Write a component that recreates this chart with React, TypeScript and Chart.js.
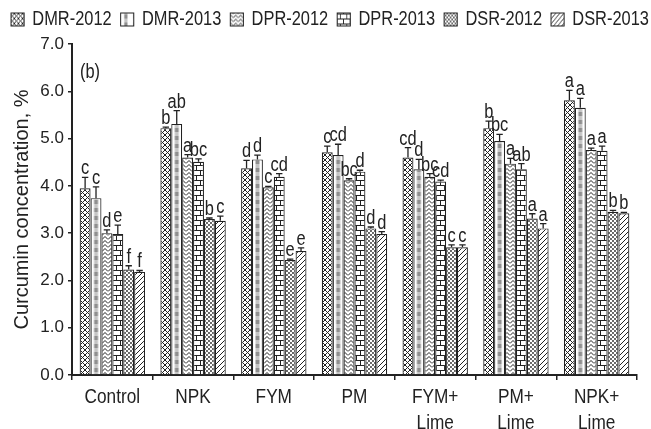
import React, { useEffect, useRef } from 'react';
import { Chart, registerables } from 'chart.js';

Chart.register(...registerables);

const categories: (string | string[])[] = ['Control', 'NPK', 'FYM', 'PM', ['FYM+', 'Lime'], ['PM+', 'Lime'], ['NPK+', 'Lime']];
const seriesNames = ['DMR-2012', 'DMR-2013', 'DPR-2012', 'DPR-2013', 'DSR-2012', 'DSR-2013'];

const dmr2012 = [3.95, 5.22, 4.37, 4.71, 4.60, 5.22, 5.81];
const dmr2013 = [3.74, 5.31, 4.56, 4.65, 4.35, 4.95, 5.65];
const dpr2012 = [3.00, 4.60, 3.97, 4.12, 4.19, 4.47, 4.76];
const dpr2013 = [2.98, 4.51, 4.19, 4.30, 4.09, 4.35, 4.74];
const dsr2012 = [2.23, 3.30, 2.43, 3.10, 2.70, 3.31, 3.45];
const dsr2013 = [2.18, 3.26, 2.62, 2.98, 2.70, 3.10, 3.42];

const dmr2012Err = [0.23, 0.02, 0.17, 0.13, 0.21, 0.15, 0.21];
const dmr2013Err = [0.24, 0.28, 0.09, 0.23, 0.21, 0.14, 0.20];
const dpr2012Err = [0.07, 0.06, 0.02, 0.03, 0.07, 0.11, 0.04];
const dpr2013Err = [0.19, 0.06, 0.07, 0.03, 0.03, 0.12, 0.10];
const dsr2012Err = [0.08, 0.02, 0.02, 0.03, 0.05, 0.10, 0.03];
const dsr2013Err = [0.03, 0.10, 0.07, 0.05, 0.05, 0.10, 0.02];

const dmr2012Letters = ['c', 'b', 'd', 'c', 'cd', 'b', 'a'];
const dmr2013Letters = ['c', 'ab', 'd', 'cd', 'd', 'bc', 'a'];
const dpr2012Letters = ['d', 'a', 'c', 'bc', 'bc', 'a', 'a'];
const dpr2013Letters = ['e', 'bc', 'cd', 'd', 'cd', 'ab', 'a'];
const dsr2012Letters = ['f', 'b', 'e', 'd', 'c', 'a', 'b'];
const dsr2013Letters = ['f', 'c', 'e', 'd', 'c', 'a', 'b'];

const yTicks = [0, 1, 2, 3, 4, 5, 6, 7];
const yTitle = 'Curcumin concentration, %';
const panelLabel = '(b)';

const values = [dmr2012, dmr2013, dpr2012, dpr2013, dsr2012, dsr2013];
const errors = [dmr2012Err, dmr2013Err, dpr2012Err, dpr2013Err, dsr2012Err, dsr2013Err];
const letters = [dmr2012Letters, dmr2013Letters, dpr2012Letters, dpr2013Letters, dsr2012Letters, dsr2013Letters];

const REG = "'Liberation Sans', Arial, sans-serif";
const INK = '#222222';
const SX = 0.82; // horizontal squeeze to imitate a narrow typeface
const CAT_PCT = 0.81;
const LEGEND_DX = 2;
const LEGEND_DY = -1.5;

function tileCanvas(w: number, h: number, draw: (c: CanvasRenderingContext2D) => void): HTMLCanvasElement {
  const cv = document.createElement('canvas');
  cv.width = w;
  cv.height = h;
  const c = cv.getContext('2d') as CanvasRenderingContext2D;
  c.fillStyle = '#ffffff';
  c.fillRect(0, 0, w, h);
  c.strokeStyle = INK;
  c.fillStyle = INK;
  c.lineWidth = 1;
  draw(c);
  return cv;
}

const patCtx = () => document.createElement('canvas').getContext('2d') as CanvasRenderingContext2D;

function makePatterns() {
  const cross = patCtx().createPattern(tileCanvas(5, 5, (c) => {
    c.beginPath();
    c.moveTo(-1, -1); c.lineTo(6, 6);
    c.moveTo(6, -1); c.lineTo(-1, 6);
    c.stroke();
  }), 'repeat') as CanvasPattern;
  const stripeTile = tileCanvas(11, 8, (c) => {
    c.fillStyle = '#8f8f8f';
    c.fillRect(3.5, 0, 4, 4);
    c.fillStyle = '#c4c4c4';
    c.fillRect(3.5, 4, 4, 4);
  });
  const zigzag = patCtx().createPattern(tileCanvas(6, 4, (c) => {
    c.beginPath();
    c.moveTo(0, 3.5); c.lineTo(3, 0.5); c.lineTo(6, 3.5);
    c.stroke();
  }), 'repeat') as CanvasPattern;
  const brick = patCtx().createPattern(tileCanvas(8, 10, (c) => {
    c.beginPath();
    c.moveTo(0, 0.5); c.lineTo(8, 0.5);
    c.moveTo(0, 5.5); c.lineTo(8, 5.5);
    c.moveTo(0.5, 0.5); c.lineTo(0.5, 5.5);
    c.moveTo(4.5, 5.5); c.lineTo(4.5, 10);
    c.stroke();
  }), 'repeat') as CanvasPattern;
  const dots = patCtx().createPattern(tileCanvas(4, 4, (c) => {
    c.beginPath();
    c.arc(1, 1, 0.9, 0, Math.PI * 2);
    c.arc(3, 3, 0.9, 0, Math.PI * 2);
    c.fill();
  }), 'repeat') as CanvasPattern;
  const diag = patCtx().createPattern(tileCanvas(5, 5, (c) => {
    c.beginPath();
    c.moveTo(-1, 6); c.lineTo(6, -1);
    c.moveTo(-1, 1); c.lineTo(1, -1);
    c.moveTo(4, 6); c.lineTo(6, 4);
    c.stroke();
  }), 'repeat') as CanvasPattern;

  // DMR-2013: grey dashed stripe down the middle of every bar (pattern aligned to each bar)
  const stripePatterns = new Map<number, CanvasPattern>();
  const stripeFill = (context: any) => {
    const chart = context.chart;
    const xs = chart.scales && chart.scales.x;
    if (context.dataIndex === undefined || !xs || !xs.width) {
      return patCtx().createPattern(stripeTile, 'repeat') as CanvasPattern;
    }
    const n = chart.data.labels.length;
    const catW = xs.width / n;
    const groupW = catW * CAT_PCT;
    const barW = groupW / seriesNames.length;
    const center = xs.getPixelForValue(context.dataIndex);
    const left = center - groupW / 2 + barW * context.datasetIndex + (barW - 11) / 2;
    const key = Math.round(left * 100);
    let p = stripePatterns.get(key);
    if (!p) {
      p = patCtx().createPattern(stripeTile, 'repeat') as CanvasPattern;
      p.setTransform(new DOMMatrix([1, 0, 0, 1, left, 0]));
      stripePatterns.set(key, p);
    }
    return p;
  };
  return [cross, stripeFill, zigzag, brick, dots, diag];
}

function narrowText(ctx: CanvasRenderingContext2D, text: string, x: number, y: number) {
  ctx.save();
  ctx.translate(x, y);
  ctx.scale(SX, 1);
  ctx.fillText(text, 0, 0);
  ctx.restore();
}

const narrowPlugin = {
  id: 'narrowPlugin',
  afterInit(chart: any) {
    const legend = chart.legend;
    if (!legend || legend.__patched) return;
    legend.__patched = true;
    const origFit = legend.fit;
    legend.fit = function () {
      const mw = this.maxWidth;
      this.maxWidth = 5000;
      origFit.call(this);
      this.maxWidth = mw;
      this.width = Math.min(this.width, mw);
      this.height += 3;
    };
    const origDraw = legend.draw;
    legend.draw = function (area: any) {
      const L = this.left, R = this.right, W = this.width;
      this.left = 0;
      this.right = 5000;
      this.width = 5000;
      this.ctx.save();
      this.ctx.translate(L + LEGEND_DX, LEGEND_DY);
      this.ctx.scale(SX, 1);
      origDraw.call(this, area);
      this.ctx.restore();
      this.left = L;
      this.right = R;
      this.width = W;
    };
  },
  beforeDraw(chart: any) {
    const xs = chart.scales.x;
    if (!xs || xs.__patched) return;
    xs.__patched = true;
    xs.drawLabels = function (chartArea: any) {
      const ctx: CanvasRenderingContext2D = this.ctx;
      const items = this.getLabelItems(chartArea);
      for (const item of items) {
        const { label, font, textOffset, options } = item;
        ctx.save();
        ctx.font = font.string;
        ctx.fillStyle = options.color;
        ctx.textAlign = options.textAlign;
        ctx.textBaseline = options.textBaseline;
        const lines = Array.isArray(label) ? label : [label];
        let yy = options.translation[1] + textOffset;
        for (const line of lines) {
          narrowText(ctx, String(line), options.translation[0], yy);
          yy += font.lineHeight;
        }
        ctx.restore();
      }
    };
  },
};

const annotations = {
  id: 'annotations',
  afterDatasetsDraw(chart: any) {
    const ctx: CanvasRenderingContext2D = chart.ctx;
    const ys = chart.scales.y;
    ctx.save();
    values.forEach((series, di) => {
      const meta = chart.getDatasetMeta(di);
      meta.data.forEach((bar: any, i: number) => {
        const x = bar.x;
        const top = ys.getPixelForValue(series[i]);
        const et = ys.getPixelForValue(series[i] + errors[di][i]);
        ctx.strokeStyle = INK;
        ctx.lineWidth = 1.3;
        ctx.beginPath();
        ctx.moveTo(x, top);
        ctx.lineTo(x, et);
        ctx.moveTo(x - 3.2, et);
        ctx.lineTo(x + 3.2, et);
        ctx.stroke();
        ctx.fillStyle = INK;
        ctx.font = `20px ${REG}`;
        ctx.textAlign = 'center';
        ctx.textBaseline = 'alphabetic';
        narrowText(ctx, letters[di][i], x, et - 3);
      });
    });
    ctx.font = `20px ${REG}`;
    ctx.textAlign = 'left';
    ctx.textBaseline = 'alphabetic';
    ctx.fillStyle = INK;
    narrowText(ctx, panelLabel, chart.chartArea.left + 8, chart.chartArea.top + 34);
    ctx.restore();
  },
};

export default function App() {
  const ref = useRef<HTMLCanvasElement | null>(null);
  useEffect(() => {
    document.body.style.margin = '0';
    const canvas = ref.current;
    if (!canvas) return;
    const patterns = makePatterns();
    const chart = new Chart(canvas, {
      type: 'bar',
      data: {
        labels: categories as any,
        datasets: seriesNames.map((name, i) => ({
          label: name,
          data: values[i],
          backgroundColor: patterns[i] as any,
          borderColor: INK,
          borderWidth: 1.2,
          categoryPercentage: CAT_PCT,
          barPercentage: 1.0,
        })),
      },
      options: {
        responsive: false,
        animation: false,
        devicePixelRatio: 1,
        layout: { padding: { top: 0, right: 14, left: 0, bottom: 0 } },
        plugins: {
          legend: {
            position: 'top',
            align: 'start',
            labels: {
              font: { family: REG, size: 20 },
              color: INK,
              boxWidth: 16,
              boxHeight: 13,
              padding: 11,
            },
          },
          tooltip: { enabled: false },
        },
        scales: {
          x: {
            grid: { drawOnChartArea: false, drawTicks: true, tickLength: 5, color: INK, lineWidth: 1.5 },
            border: { color: INK, width: 2 },
            ticks: {
              font: { family: REG, size: 21, lineHeight: 1.25 },
              color: INK,
              padding: 4,
              maxRotation: 0,
              autoSkip: false,
            },
            afterFit: (s: any) => { s.height = 54; },
          },
          y: {
            min: 0,
            max: 7,
            afterBuildTicks: (s: any) => { s.ticks = yTicks.map((v) => ({ value: v })); },
            ticks: {
              callback: (v: any) => Number(v).toFixed(1),
              font: { family: REG, size: 17 },
              color: INK,
              padding: 4,
            },
            grid: { drawOnChartArea: false, drawTicks: true, tickLength: 4, color: INK, lineWidth: 1.5 },
            border: { color: INK, width: 2 },
            title: {
              display: true,
              text: yTitle,
              font: { family: REG, size: 20 },
              color: INK,
              padding: { top: 10, bottom: 0 },
            },
            afterFit: (s: any) => { s.width = 72; },
          },
        },
      },
      plugins: [narrowPlugin, annotations],
    } as any);
    return () => chart.destroy();
  }, []);
  return <canvas ref={ref} width={651} height={429} style={{ display: 'block' }} />;
}
